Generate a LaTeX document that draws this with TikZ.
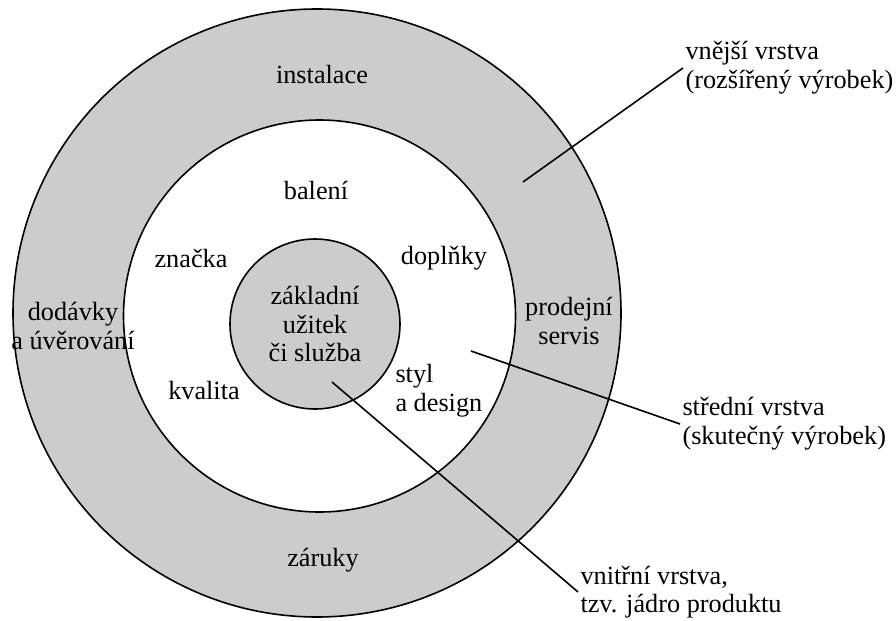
\documentclass[tikz,border=0pt]{standalone}
\usepackage{fontspec}
\setmainfont{Liberation Serif}
\usepackage{tikz}
\tikzset{every picture/.style={line width=0.75pt}}
\definecolor{ringgray}{RGB}{204,204,204}
\tikzset{
  layer/.style={draw=black, line width=1.2pt, fill=ringgray},
  gap/.style={draw=black, line width=1.2pt, fill=white},
  lbl/.style={font=\fontsize{19.7}{21.5}\selectfont, inner sep=0pt, align=center},
  side/.style={lbl, anchor=west, align=left, inner sep=1.5pt},
  leader/.style={draw=black, line width=1.2pt}
}

\begin{document}
\begin{tikzpicture}[x=0.75pt,y=0.75pt,yscale=-1,xscale=1]
\useasboundingbox (0,0) rectangle (896,621);

%Shape: Circle [outer layer]
\draw [layer] (317,313) circle (304);
%Shape: Circle [middle layer]
\draw [gap] (319.5,316) circle (196);
%Shape: Circle [core]
\draw [layer] (315,324) circle (85);

% Text Node
\node [lbl] (instalace) at (322,75) {instalace};
% Text Node
\node [lbl] (dodavky) at (73,326) {dodávky\\a úvěrování};
% Text Node
\node [lbl] (servis) at (569,321) {prodejní\\servis};
% Text Node
\node [lbl] (zaruky) at (323,560) {záruky};
% Text Node
\node [lbl] (baleni) at (316,190) {balení};
% Text Node
\node [lbl] (znacka) at (191,258) {značka};
% Text Node
\node [lbl] (doplnky) at (444,258) {doplňky};
% Text Node
\node [lbl] (kvalita) at (204,391) {kvalita};
% Text Node
\node [lbl, anchor=west, align=left] (styl) at (395,391) {styl\\a design};
% Text Node
\node [lbl] (uzitek) at (315,324) {základní\\užitek\\či služba};

% Text Node
\node [side] (vnejsi) at (683,68) {vnější vrstva\\(rozšířený výrobek)};
% Text Node
\node [side] (stredni) at (680,424) {střední vrstva\\(skutečný výrobek)};
% Text Node
\node [side] (vnitrni) at (578,592) {vnitřní vrstva,\\tzv. jádro produktu};

\coordinate (ptvnejsi) at (523,182);
\coordinate (ptstredni) at (471,351);
\coordinate (ptvnitrni) at (332,382);

%Straight Lines
\draw [leader] (ptvnejsi) -- (vnejsi.west);
%Straight Lines
\draw [leader] (ptstredni) -- (stredni.west);
%Straight Lines
\draw [leader] (ptvnitrni) -- (vnitrni.west);

\end{tikzpicture}
\end{document}
